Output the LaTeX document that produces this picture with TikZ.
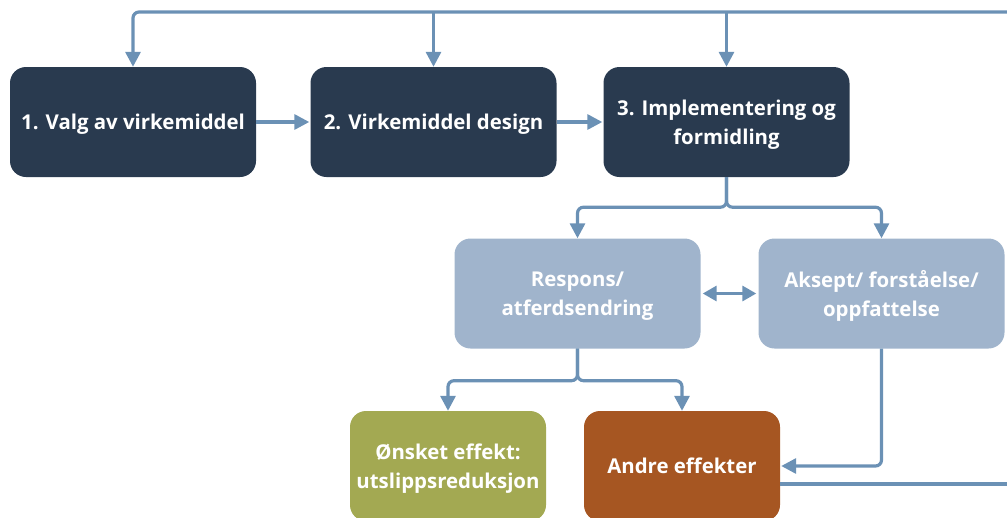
\documentclass[tikz,border=0pt]{standalone}
\usepackage{fontspec}
\setmainfont{Open Sans}
\usetikzlibrary{arrows.meta}
\definecolor{navy}{RGB}{41,58,79}
\definecolor{lightblue}{RGB}{160,180,204}
\definecolor{arrowblue}{RGB}{107,145,181}
\definecolor{olive}{RGB}{163,169,82}
\definecolor{rust}{RGB}{166,86,34}
\tikzset{
  box/.style={rounded corners=16pt, text=white, align=center, inner sep=0pt,
    text depth=-5pt, font=\fontsize{20.4}{28.5}\selectfont\bfseries},
  darkbox/.style={box, fill=navy, minimum width=246pt, minimum height=110pt},
  lightbox/.style={box, fill=lightblue, minimum width=246pt, minimum height=110pt},
  effbox/.style={box, minimum width=196pt, minimum height=110pt},
  conn/.style={draw=arrowblue, line width=3.2pt, rounded corners=6pt},
  arr/.style={conn, -{Triangle[width=15pt,length=15pt]}},
  darr/.style={conn, {Triangle[width=15pt,length=14pt]}-{Triangle[width=15pt,length=14pt]}},
}
\begin{document}
\begin{tikzpicture}[x=1pt,y=-1pt]
\useasboundingbox (0,0) rectangle (1007,517);
\clip (0,0) rectangle (1007,517);
\node[darkbox] (b1) at (133,122) {1. Valg av virkemiddel};
\node[darkbox] (b2) at (433.5,122) {2. Virkemiddel design};
\node[darkbox] (b3) at (726.5,122) {3. Implementering og\\formidling};
\node[lightbox] (b4) at (577.5,293.5) {Respons/\\atferdsendring};
\node[lightbox] (b5) at (881.5,293.5) {Aksept/ forståelse/\\oppfattelse};
\node[effbox, fill=olive] (b6) at (448,466) {Ønsket effekt:\\utslippsreduksjon};
\node[effbox, fill=rust] (b7) at (682,466) {Andre effekter};
\coordinate (tr) at (1012,12);
\coordinate (br) at (1012,484);
% top feedback line
\draw[arr] (tr) -| (b1.north);
\draw[arr] (b2.north |- tr) -- (b2.north);
\draw[arr] (b3.north |- tr) -- (b3.north);
% horizontal flow
\draw[arr] (b1.east) -- ([xshift=-1pt]b2.west);
\draw[arr] (b2.east) -- ([xshift=-1pt]b3.west);
% split from b3
\draw[arr] (b3.south) -- ++(0,30) -| (b4.north);
\draw[arr] (b3.south) -- ++(0,30) -| (b5.north);
% double arrow
\draw[darr] ([xshift=2pt]b4.east) -- ([xshift=-2pt]b5.west);
% split from b4
\draw[arr] (b4.south) -- ++(0,32) -| (b6.north);
\draw[arr] (b4.south) -- ++(0,32) -| (b7.north);
% from b5 to b7
\draw[arr] (b5.south) |- ([xshift=1pt]b7.east);
% from b7 to right
\draw[conn] (b7.east |- br) -- (br);
\end{tikzpicture}
\end{document}
